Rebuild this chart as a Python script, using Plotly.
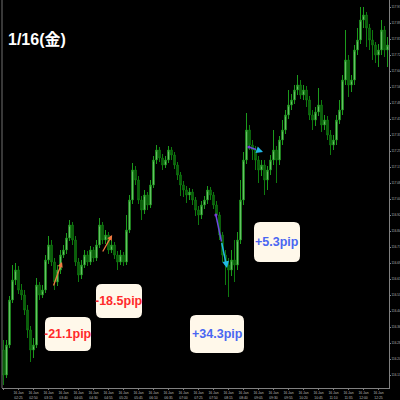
import plotly.graph_objects as go

# ---------------- data ----------------
open_ = [116.25, 116.125, 116.275, 116.5, 116.6, 116.65, 116.55, 116.525, 116.45, 116.35,
         116.25, 116.275, 116.575, 116.525, 116.55, 116.7, 116.775, 116.69, 116.59, 116.65,
         116.725, 116.75, 116.81, 116.875, 116.8, 116.69, 116.625, 116.675, 116.725, 116.69,
         116.75, 116.71, 116.775, 116.875, 116.8, 116.825, 116.75, 116.775, 116.725, 116.69,
         116.725, 116.69, 116.85, 117.0, 117.15, 117.1, 117.0, 116.95, 117.025, 116.975,
         117.075, 117.2, 117.25, 117.21, 117.175, 117.2, 117.25, 117.225, 117.175, 117.125,
         117.075, 117.05, 117.025, 117.04, 117.0, 116.95, 116.925, 116.975, 117.0, 117.05,
         117.025, 116.975, 116.925, 116.825, 116.725, 116.675, 116.65, 116.7, 116.675, 116.8,
         117.0, 117.2, 117.35, 117.275, 117.25, 117.2, 117.15, 117.175, 117.1, 117.15,
         117.2, 117.25, 117.2, 117.3, 117.35, 117.425, 117.475, 117.5, 117.55, 117.575,
         117.525, 117.55, 117.5, 117.425, 117.4, 117.44, 117.475, 117.375, 117.4, 117.325,
         117.275, 117.3, 117.4, 117.45, 117.6, 117.7, 117.575, 117.6, 117.75, 117.8,
         117.9, 117.925, 117.86, 117.8, 117.775, 117.725, 117.75, 117.85, 117.75]
close = [116.125, 116.275, 116.5, 116.6, 116.65, 116.55, 116.525, 116.45, 116.35, 116.25,
         116.275, 116.575, 116.525, 116.55, 116.7, 116.775, 116.69, 116.59, 116.65, 116.725,
         116.75, 116.81, 116.875, 116.8, 116.69, 116.625, 116.675, 116.725, 116.69, 116.75,
         116.71, 116.775, 116.875, 116.8, 116.825, 116.75, 116.775, 116.725, 116.69, 116.725,
         116.69, 116.85, 117.0, 117.15, 117.1, 117.0, 116.95, 117.025, 116.975, 117.075,
         117.2, 117.25, 117.21, 117.175, 117.2, 117.25, 117.225, 117.175, 117.125, 117.075,
         117.05, 117.025, 117.04, 117.0, 116.95, 116.925, 116.975, 117.0, 117.05, 117.025,
         116.975, 116.925, 116.825, 116.725, 116.675, 116.65, 116.7, 116.675, 116.8, 117.0,
         117.2, 117.35, 117.275, 117.25, 117.2, 117.15, 117.175, 117.1, 117.15, 117.2,
         117.25, 117.2, 117.3, 117.35, 117.425, 117.475, 117.5, 117.55, 117.575, 117.525,
         117.55, 117.5, 117.425, 117.4, 117.44, 117.475, 117.375, 117.4, 117.325, 117.275,
         117.3, 117.4, 117.45, 117.6, 117.7, 117.575, 117.6, 117.75, 117.8, 117.9,
         117.925, 117.86, 117.8, 117.775, 117.725, 117.75, 117.85, 117.75, 117.775]
high = [116.3, 116.3, 116.52, 116.675, 116.685, 116.67, 116.58, 116.55, 116.475, 116.37,
        116.31, 116.61, 116.59, 116.575, 116.725, 116.82, 116.8, 116.71, 116.675, 116.75,
        116.775, 116.835, 116.9, 116.89, 116.82, 116.71, 116.7, 116.75, 116.745, 116.77,
        116.765, 116.8, 116.91, 116.89, 116.85, 116.84, 116.8, 116.79, 116.745, 116.75,
        116.74, 116.925, 117.025, 117.185, 117.17, 117.12, 117.02, 117.05, 117.04, 117.1,
        117.22, 117.275, 117.265, 117.23, 117.22, 117.27, 117.265, 117.24, 117.19, 117.14,
        117.095, 117.07, 117.06, 117.055, 117.015, 116.97, 116.995, 117.02, 117.07, 117.065,
        117.04, 116.995, 116.94, 116.84, 116.75, 116.71, 116.75, 116.8, 116.84, 117.1,
        117.24, 117.435, 117.375, 117.3, 117.27, 117.22, 117.2, 117.2, 117.17, 117.225,
        117.35, 117.27, 117.32, 117.4, 117.45, 117.55, 117.53, 117.575, 117.625, 117.6,
        117.575, 117.57, 117.52, 117.45, 117.465, 117.56, 117.5, 117.425, 117.42, 117.35,
        117.325, 117.425, 117.5, 117.625, 117.85, 117.725, 117.625, 117.775, 117.86, 117.965,
        117.965, 117.94, 117.88, 117.85, 117.79, 117.78, 117.9, 117.87, 117.815]
low = [116.075, 116.11, 116.26, 116.485, 116.575, 116.53, 116.5, 116.425, 116.31, 116.19,
       116.21, 116.26, 116.5, 116.51, 116.535, 116.68, 116.67, 116.55, 116.57, 116.63,
       116.71, 116.73, 116.795, 116.775, 116.67, 116.59, 116.605, 116.66, 116.67, 116.675,
       116.69, 116.695, 116.76, 116.78, 116.78, 116.73, 116.735, 116.705, 116.65, 116.675,
       116.67, 116.675, 116.835, 116.98, 117.075, 116.98, 116.9, 116.93, 116.95, 116.96,
       117.06, 117.18, 117.19, 117.15, 117.16, 117.185, 117.2, 117.155, 117.1, 117.02,
       117.015, 116.985, 117.0, 116.975, 116.92, 116.875, 116.905, 116.955, 116.98, 117.0,
       116.955, 116.9, 116.8, 116.69, 116.575, 116.515, 116.62, 116.59, 116.65, 116.78,
       116.975, 117.18, 117.25, 117.2, 117.15, 117.085, 117.12, 117.025, 117.05, 117.125,
       117.175, 117.085, 117.175, 117.275, 117.33, 117.405, 117.45, 117.48, 117.525, 117.505,
       117.5, 117.465, 117.4, 117.35, 117.37, 117.42, 117.34, 117.35, 117.3, 117.225,
       117.25, 117.275, 117.38, 117.425, 117.575, 117.515, 117.54, 117.575, 117.725, 117.78,
       117.86, 117.765, 117.75, 117.7, 117.685, 117.665, 117.725, 117.715, 117.665]

tick_index = [0, 5, 10, 15, 20, 25, 30, 35, 40, 45, 50, 55, 60, 65, 70, 75, 80, 85, 90,
              95, 100, 105, 110, 115, 120, 125]
tick_labels = ["16 Jan<br>02:00", "16 Jan<br>02:25", "16 Jan<br>02:50", "16 Jan<br>03:15",
               "16 Jan<br>03:40", "16 Jan<br>04:05", "16 Jan<br>04:30", "16 Jan<br>04:55",
               "16 Jan<br>05:20", "16 Jan<br>05:45", "16 Jan<br>06:10", "16 Jan<br>06:35",
               "16 Jan<br>07:00", "16 Jan<br>07:25", "16 Jan<br>07:50", "16 Jan<br>08:15",
               "16 Jan<br>08:40", "16 Jan<br>09:05", "16 Jan<br>09:30", "16 Jan<br>09:55",
               "16 Jan<br>10:20", "16 Jan<br>10:45", "16 Jan<br>11:10", "16 Jan<br>11:35",
               "16 Jan<br>12:00", "16 Jan<br>12:25"]

# measured moves: (start index, start price, end index, end price)
orange_moves = [(16.5, 116.565, 19.5, 116.69), (32.8, 116.735, 36.2, 116.825)]
blue_moves = [(70.8, 116.925, 74.5, 116.66), (81.8, 117.265, 86.5, 117.24)]

labels = ["-21.1pip", "-18.5pip", "+34.3pip", "+5.3pip"]
label_colors = ["#FF2A2A", "#FF2A2A", "#4A66F2", "#4A66F2"]
# label boxes in pixels: x0, y0, x1, y1
label_boxes = [(45, 317, 91, 351), (96, 284, 142, 318), (190, 315, 244, 353), (254, 222, 300, 262)]

# ---------------- figure ----------------
W, H = 400, 400
ML, MR, MT, MB = 2, 11, 0, 12
PW, PH = W - ML - MR, H - MT - MB


def px2paper(x, y):
    return (x - ML) / PW, 1 - (y - MT) / PH


x_idx = list(range(len(close)))

fig = go.Figure()
fig.add_trace(go.Candlestick(
    x=x_idx, open=open_, high=high, low=low, close=close,
    increasing=dict(line=dict(color="#1C9A1C", width=1), fillcolor="#A6E6A6"),
    decreasing=dict(line=dict(color="#0F7A0F", width=1), fillcolor="#0A4A0A"),
    whiskerwidth=0, hoverinfo="skip", showlegend=False,
))

shapes = []
annotations = []

# left border line
shapes.append(dict(type="line", xref="paper", yref="paper", x0=0, x1=0, y0=0, y1=1,
                   line=dict(color="#707070", width=1)))

for (a0, p0, a1, p1) in orange_moves:
    annotations.append(dict(x=a1, y=p1, ax=a0, ay=p0, xref="x", yref="y", axref="x", ayref="y",
                            text="", showarrow=True, arrowhead=2, arrowsize=0.8, arrowwidth=1.3,
                            arrowcolor="#F07A40"))

for (a0, p0, a1, p1) in blue_moves:
    am, pm = (a0 + a1) / 2, (p0 + p1) / 2
    shapes.append(dict(type="line", xref="x", yref="y", x0=a0, y0=p0, x1=am, y1=pm,
                       line=dict(color="#6A4BE0", width=1.5)))
    annotations.append(dict(x=a1, y=p1, ax=am, ay=pm, xref="x", yref="y", axref="x", ayref="y",
                            text="", showarrow=True, arrowhead=2, arrowsize=0.9, arrowwidth=1.5,
                            arrowcolor="#22B8E6"))
    shapes.append(dict(type="circle", xref="x", yref="y", x0=a0 - 0.5, x1=a0 + 0.5,
                       y0=p0 - 0.008, y1=p0 + 0.008, fillcolor="#7A3BD8", line=dict(width=0)))


def rounded_path(x0, y0, x1, y1, r):
    def P(x, y):
        u, v = px2paper(x, y)
        return f"{u:.5f},{v:.5f}"
    return (f"M {P(x0 + r, y0)} L {P(x1 - r, y0)} Q {P(x1, y0)} {P(x1, y0 + r)} "
            f"L {P(x1, y1 - r)} Q {P(x1, y1)} {P(x1 - r, y1)} L {P(x0 + r, y1)} "
            f"Q {P(x0, y1)} {P(x0, y1 - r)} L {P(x0, y0 + r)} Q {P(x0, y0)} {P(x0 + r, y0)} Z")


for text, col, (bx0, by0, bx1, by1) in zip(labels, label_colors, label_boxes):
    shapes.append(dict(type="path", xref="paper", yref="paper",
                       path=rounded_path(bx0, by0, bx1, by1, 6),
                       fillcolor="#FFF8EA", line=dict(width=0), layer="above"))
    cx, cy = px2paper((bx0 + bx1) / 2, (by0 + by1) / 2)
    annotations.append(dict(x=cx, y=cy, xref="paper", yref="paper", text=f"<b>{text}</b>",
                            showarrow=False, xanchor="center", yanchor="middle",
                            font=dict(family="Liberation Sans, sans-serif",
                                      size=12.5, color=col)))

tx, ty = px2paper(37, 39)
annotations.append(dict(x=tx, y=ty, xref="paper", yref="paper", text="<b>1/16(金)</b>",
                        showarrow=False, xanchor="center", yanchor="middle",
                        font=dict(family="Liberation Sans, Noto Sans CJK JP, sans-serif",
                                  size=16, color="#FFFFFF")))

fig.update_layout(
    width=W, height=H,
    margin=dict(l=ML, r=MR, t=MT, b=MB, pad=0),
    paper_bgcolor="#000000", plot_bgcolor="#000000",
    shapes=shapes, annotations=annotations,
    showlegend=False,
    xaxis=dict(range=[-0.5, 128.5], rangeslider=dict(visible=False), showgrid=False, zeroline=False,
               tickmode="array", tickvals=tick_index, ticktext=tick_labels,
               tickfont=dict(size=3.4, color="#BBBBBB", family="Liberation Sans"),
               ticks="outside", ticklen=1, tickcolor="#808080",
               showline=True, linecolor="#808080", linewidth=1, fixedrange=True),
    yaxis=dict(range=[116.06, 118.0], side="right", showgrid=False, zeroline=False,
               tick0=117.965, dtick=0.08, tickformat=".2f",
               tickfont=dict(size=3, color="#BBBBBB", family="Liberation Sans"),
               ticks="outside", ticklen=1, tickcolor="#808080",
               showline=True, linecolor="#808080", linewidth=1, fixedrange=True),
)

fig.write_html("out.html", config={"staticPlot": True},
               post_script="document.body.style.margin='0';document.body.style.background='#000';")
